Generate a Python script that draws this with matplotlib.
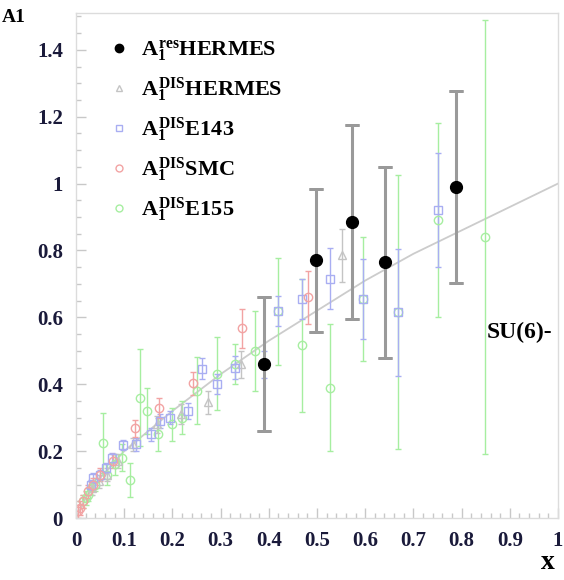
import matplotlib
matplotlib.use("Agg")
import matplotlib.pyplot as plt
from matplotlib.lines import Line2D
from matplotlib.ticker import MultipleLocator

plt.rcParams['font.family'] = ['Liberation Serif', 'DejaVu Serif']
plt.rcParams['font.weight'] = 'bold'
plt.rcParams['mathtext.fontset'] = 'custom'
plt.rcParams['mathtext.rm'] = 'Liberation Serif:bold'
plt.rcParams['mathtext.it'] = 'Liberation Serif:bold'
plt.rcParams['mathtext.bf'] = 'Liberation Serif:bold'

# ---- data ----
res_x = [0.39, 0.498, 0.573, 0.641, 0.789]
res_y = [0.46, 0.77, 0.884, 0.764, 0.991]
res_err = [0.20, 0.215, 0.29, 0.285, 0.287]

hd_x = [0.033, 0.047, 0.065, 0.087, 0.119, 0.168, 0.218, 0.274, 0.342, 0.551]
hd_y = [0.09, 0.11, 0.13, 0.17, 0.22, 0.28, 0.31, 0.346, 0.46, 0.785]
hd_err = [0.02, 0.02, 0.02, 0.02, 0.02, 0.025, 0.03, 0.035, 0.04, 0.08]

e143_x = [0.031, 0.036, 0.049, 0.063, 0.075, 0.098, 0.124, 0.155, 0.175, 0.195,
          0.233, 0.261, 0.292, 0.33, 0.39, 0.419, 0.468, 0.527, 0.595, 0.668, 0.751]
e143_y = [0.10, 0.12, 0.13, 0.15, 0.18, 0.218, 0.22, 0.25, 0.29, 0.30,
          0.32, 0.447, 0.40, 0.45, 0.46, 0.618, 0.656, 0.716, 0.654, 0.615, 0.92]
e143_err = [0.015, 0.015, 0.015, 0.015, 0.015, 0.015, 0.02, 0.02, 0.02, 0.02,
            0.025, 0.03, 0.03, 0.035, 0.04, 0.045, 0.06, 0.09, 0.12, 0.19, 0.17]

smc_x = [0.005, 0.008, 0.014, 0.025, 0.035, 0.049, 0.077, 0.122, 0.173, 0.243, 0.344, 0.482]
smc_y = [0.02, 0.03, 0.05, 0.08, 0.10, 0.13, 0.17, 0.268, 0.33, 0.403, 0.567, 0.66]
smc_err = [0.02, 0.02, 0.02, 0.02, 0.02, 0.02, 0.02, 0.025, 0.03, 0.035, 0.058, 0.08]

e155_x = [0.015, 0.02, 0.025, 0.032, 0.04, 0.056, 0.065, 0.08, 0.096, 0.112, 0.133,
          0.147, 0.17, 0.2, 0.22, 0.25, 0.292, 0.33, 0.372, 0.419, 0.468, 0.527,
          0.595, 0.668, 0.751, 0.849]
e155_y = [0.05, 0.06, 0.07, 0.09, 0.10, 0.224, 0.13, 0.16, 0.18, 0.114, 0.36,
          0.32, 0.25, 0.28, 0.30, 0.38, 0.432, 0.46, 0.50, 0.618, 0.516, 0.39,
          0.654, 0.615, 0.89, 0.84]
e155_err = [0.02, 0.02, 0.02, 0.02, 0.02, 0.09, 0.03, 0.03, 0.04, 0.05, 0.145,
            0.07, 0.05, 0.05, 0.05, 0.10, 0.11, 0.06, 0.12, 0.16, 0.20, 0.19,
            0.185, 0.41, 0.29, 0.65]

su6_x = [0, 0.02, 0.05, 0.1, 0.2, 0.3, 0.4, 0.5, 0.6, 0.7, 0.8, 0.9, 1.0]
su6_y = [0, 0.06, 0.12, 0.2, 0.32, 0.43, 0.53, 0.62, 0.71, 0.79, 0.86, 0.93, 1.0]
su6_level = 5 / 9

labels = [r"$A_1^{res}$HERMES", r"$A_1^{DIS}$HERMES", r"$A_1^{DIS}$E143",
          r"$A_1^{DIS}$SMC", r"$A_1^{DIS}$E155"]

# ---- figure ----
fig = plt.figure(figsize=(5.64, 5.80), dpi=100)
ax = fig.add_axes([76/564, 62/580, 482/564, 505/580])

ax.plot(su6_x, su6_y, color='#cccccc', lw=1.3, zorder=1)

c_hd, c_143, c_smc, c_155 = '#c4c4c4', '#a9aef2', '#f2a3a3', '#a6eea0'
for xs, ys, es, mk, c in [(e155_x, e155_y, e155_err, 'o', c_155),
                          (hd_x, hd_y, hd_err, '^', c_hd),
                          (e143_x, e143_y, e143_err, 's', c_143),
                          (smc_x, smc_y, smc_err, 'o', c_smc)]:
    ax.errorbar(xs, ys, yerr=es, fmt=mk, mfc='none', mec=c, ms=6, mew=1,
                ecolor=c, elinewidth=1, capsize=2.5, capthick=1, zorder=2)

ax.errorbar(res_x, res_y, yerr=res_err, fmt='o', color='black', ms=8.5,
            ecolor='#9a9a9a', elinewidth=2.2, capsize=5, capthick=2, zorder=4)
ax.errorbar(res_x, res_y, yerr=res_err, fmt='none', ecolor='#8a8a8a',
            elinewidth=0, capsize=5, capthick=2, zorder=3)

ax.text(0.988, su6_level, "SU(6)-", ha='right', va='center', fontsize=17,
        fontweight='bold', transform=ax.get_yaxis_transform())

handles = [
    Line2D([], [], ls='none', marker='o', color='black', ms=6),
    Line2D([], [], ls='none', marker='^', mfc='none', mec=c_hd, ms=5),
    Line2D([], [], ls='none', marker='s', mfc='none', mec=c_143, ms=5),
    Line2D([], [], ls='none', marker='o', mfc='none', mec=c_smc, ms=5),
    Line2D([], [], ls='none', marker='o', mfc='none', mec=c_155, ms=5),
]
ax.legend(handles, labels, loc='upper left', bbox_to_anchor=(0.048, 0.967),
          frameon=False, fontsize=16, handlelength=1.0, handletextpad=0.5,
          labelspacing=0.5, borderaxespad=0)

ax.set_xlim(0, 1)
ax.set_ylim(0, 1.51)
ax.xaxis.set_minor_locator(MultipleLocator(0.02))
ax.yaxis.set_minor_locator(MultipleLocator(0.05))
ax.set_xticks([0, 0.1, 0.2, 0.3, 0.4, 0.5, 0.6, 0.7, 0.8, 0.9, 1.0])
ax.set_xticklabels(['0', '0.1', '0.2', '0.3', '0.4', '0.5', '0.6', '0.7', '0.8', '0.9', '1'])
ax.set_yticks([0, 0.2, 0.4, 0.6, 0.8, 1.0, 1.2, 1.4])
ax.set_yticklabels(['0', '0.2', '0.4', '0.6', '0.8', '1', '1.2', '1.4'])
ax.tick_params(which='both', direction='in', colors='#c8c8c8', labelcolor='#1a1a3a',
               labelsize=15, top=False, right=False)
ax.tick_params(which='major', length=7, width=1)
ax.tick_params(which='minor', length=3.5, width=1)
ax.tick_params(axis='x', pad=9)
ax.tick_params(axis='y', pad=9.5)
for lab in ax.get_xticklabels() + ax.get_yticklabels():
    lab.set_fontweight('bold')
for s in ax.spines.values():
    s.set_color('#dcdcdc')
    s.set_linewidth(1)

fig.text(555/564, 5/580, "x", ha='right', va='bottom', fontsize=20, fontweight='bold')
fig.text(2/564, 1 - 9/580, "A1", ha='left', va='top', fontsize=14, fontweight='bold')

fig.savefig("out.png", dpi=100)
